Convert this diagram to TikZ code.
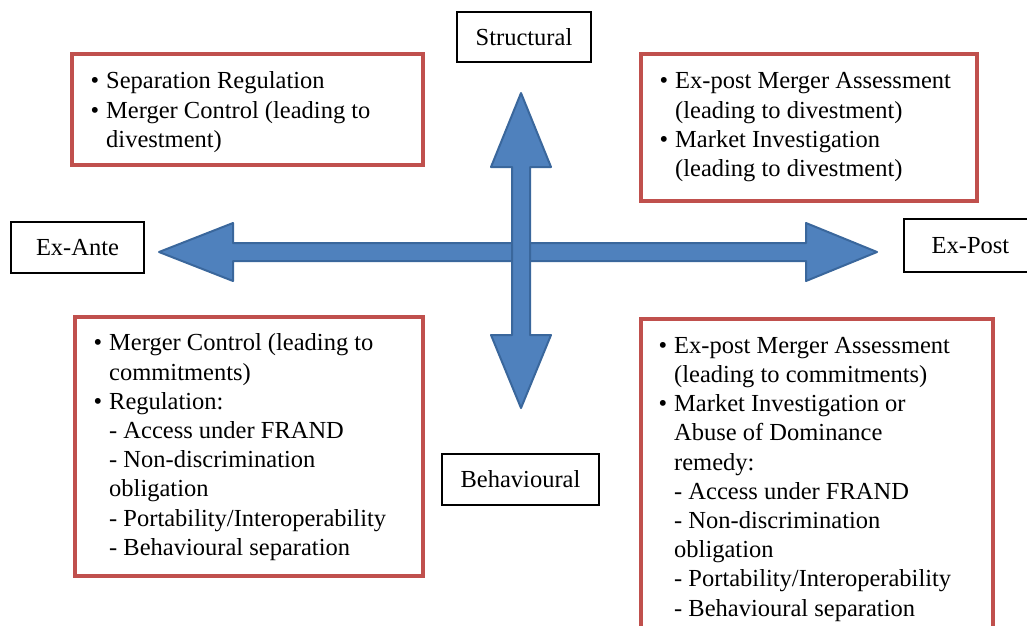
\documentclass[tikz,border=0pt]{standalone}
\usepackage{fontspec}
\setmainfont{Liberation Serif}
\definecolor{axisblue}{HTML}{4F81BD}
\definecolor{axisedge}{HTML}{3A679C}
\definecolor{boxred}{HTML}{C0504D}
\newcommand{\bul}{\llap{\textbullet\hspace{7pt}}}

\begin{document}
\begin{tikzpicture}[x=1pt, y=-1pt,
    every node/.style={font=\fontsize{24.5}{29.2}\selectfont},
    axislabel/.style={draw=black, line width=1.2pt, fill=white, inner sep=0pt},
    redbox/.style={draw=boxred, line width=3.5pt, anchor=north west, inner sep=0pt},
    listtext/.style={anchor=west, align=left, inner sep=0pt},
    axis/.style={fill=axisblue, draw=axisedge, line width=2pt, line join=round}]
    \useasboundingbox (0,0) rectangle (1027,625);
    \clip (0,0) rectangle (1027,625);
    % ex-ante / ex-post axis
    \draw[axis] (159,252) -- (233,223) -- (233,243) -- (806,243) -- (806,223) -- (877,252)
                -- (806,281) -- (806,261) -- (233,261) -- (233,281) -- cycle;
    % structural / behavioural axis
    \draw[axis] (521,93) -- (551,167) -- (530,167) -- (530,335) -- (551,335) -- (521,408)
                -- (491,335) -- (512,335) -- (512,167) -- (491,167) -- cycle;
    % axis labels
    \node[axislabel, minimum width=134pt, minimum height=50pt] (structural) at (524,37) {Structural};
    \node[axislabel, minimum width=133pt, minimum height=51pt] (exante) at (77.5,247.5) {Ex-Ante};
    \node[axislabel, minimum width=133pt, minimum height=53pt] (expost) at (970.5,245.5) {Ex-Post};
    \node[axislabel, minimum width=157pt, minimum height=51pt] (behavioural) at (520.5,479.5) {Behavioural};
    % quadrants
    \node[redbox, minimum width=351pt, minimum height=111pt] (antestruct) at (70,52) {};
    \node[listtext] (antestructtext) at ([xshift=36pt, yshift=-3pt]antestruct.west)
        {\bul Separation Regulation\\ \bul Merger Control (leading to\\ divestment)};
    \node[redbox, minimum width=336pt, minimum height=147pt] (poststruct) at (639,52) {};
    \node[listtext] (poststructtext) at ([xshift=36pt]poststruct.west)
        {\bul Ex-post Merger Assessment\\ (leading to divestment)\\
         \bul Market Investigation\\ (leading to divestment)};
    \node[redbox, minimum width=348pt, minimum height=259pt] (antebehav) at (73,315) {};
    \node[listtext] (antebehavtext) at ([xshift=36pt, yshift=-1pt]antebehav.west)
        {\bul Merger Control (leading to\\ commitments)\\ \bul Regulation:\\
         - Access under FRAND\\ - Non-discrimination\\ obligation\\
         - Portability/Interoperability\\ - Behavioural separation};
    \node[redbox, minimum width=352pt, minimum height=317pt] (postbehav) at (639,317) {};
    \node[listtext] (postbehavtext) at ([xshift=35pt, yshift=-2pt]postbehav.west)
        {\bul Ex-post Merger Assessment\\ (leading to commitments)\\
         \bul Market Investigation or\\ Abuse of Dominance\\ remedy:\\
         - Access under FRAND\\ - Non-discrimination\\ obligation\\
         - Portability/Interoperability\\ - Behavioural separation};
\end{tikzpicture}
\end{document}
